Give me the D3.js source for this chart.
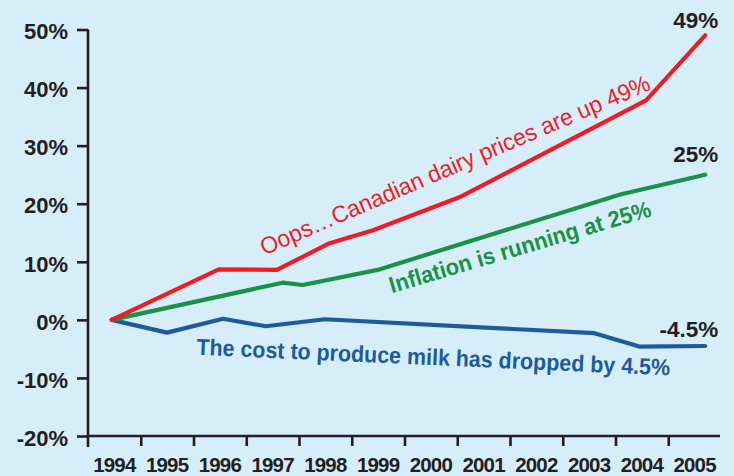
<!DOCTYPE html>
<html>
<head>
<meta charset="utf-8">
<script src="https://cdn.jsdelivr.net/npm/d3@7"></script>
<style>
  html, body { margin: 0; padding: 0; background: #d6edfa; }
  svg { display: block; font-family: "Liberation Sans", Arial, Helvetica, sans-serif; }
</style>
</head>
<body>
<svg id="chart" width="734" height="476"></svg>
<script>
// ---- data ----
const years = [1994, 1995, 1996, 1997, 1998, 1999, 2000, 2001, 2002, 2003, 2004, 2005];
const yTicks = [-20, -10, 0, 10, 20, 30, 40, 50];

// time positions (fractional years) and % change since 1994
const dairyT  = [1994.45, 1996.48, 1997.58, 1998.58, 1999.39, 2001.04, 2004.58, 2005.70];
const dairyV  = [0, 8.7, 8.6, 13.2, 15.4, 21.1, 37.8, 49];
const inflT   = [1994.45, 1997.69, 1998.07, 1999.49, 2004.09, 2005.70];
const inflV   = [0, 6.4, 6.0, 8.6, 21.6, 25];
const costT   = [1994.45, 1995.50, 1996.56, 1997.37, 1998.49, 2003.60, 2004.45, 2005.70];
const costV   = [0, -2.2, 0.2, -1.1, 0.1, -2.3, -4.6, -4.5];

const endLabels = ["49%", "25%", "-4.5%"];
const notes = [
  "Oops\u2026Canadian dairy prices are up 49%",
  "Inflation is running at 25%",
  "The cost to produce milk has dropped by 4.5%"
];

// ---- drawing ----
const svg = d3.select("#chart");
const ink = "#231f20";
const x = d3.scaleLinear().domain([1994, 2006]).range([88, 721]);
const y = d3.scaleLinear().domain([-20, 50]).range([436, 29.5]);

svg.append("rect").attr("width", 734).attr("height", 476).attr("fill", "#d6edfa");

// Y axis
const yAxis = svg.append("g").attr("transform", "translate(88,0)")
  .call(d3.axisLeft(y).tickValues(yTicks).tickSize(11).tickPadding(9).tickFormat(d => d + "%"));
yAxis.select(".domain").attr("d", `M0,${y(50)}V${y(-20) + 11}`);

// X axis
const xAxis = svg.append("g").attr("transform", `translate(0,${y(-20)})`)
  .call(d3.axisBottom(x).tickValues(years).tickSize(10).tickFormat(""));
xAxis.select(".domain").attr("d", `M${x(1994)},0H${x(2006) - 1}`);
xAxis.selectAll(".tick").filter(d => d === 1994).select("line").remove();
xAxis.append("g").selectAll("text").data(years).join("text")
  .attr("x", d => x(d + 0.5)).attr("y", 36)
  .attr("text-anchor", "middle")
  .attr("fill", ink).attr("font-size", 20.5).attr("font-weight", "bold")
  .attr("letter-spacing", "-0.8px")
  .text(d => d);

[yAxis, xAxis].forEach(g => {
  g.select(".domain").attr("stroke", ink).attr("stroke-width", 2.6);
  g.selectAll(".tick line").attr("stroke", ink).attr("stroke-width", 2.6);
});
yAxis.selectAll(".tick text")
  .attr("fill", ink).attr("font-size", 22).attr("font-weight", "bold")
  .attr("font-family", "'Liberation Sans', Arial, sans-serif")
  .attr("dy", "0.42em");

// lines
const series = [
  { t: costT,  v: costV,  color: "#1f5a9c" },
  { t: inflT,  v: inflV,  color: "#1a9146" },
  { t: dairyT, v: dairyV, color: "#ee1c25" }
];
const line = d3.line().x(d => x(d[0])).y(d => y(d[1]));
series.forEach(s => {
  svg.append("path")
    .datum(s.t.map((t, i) => [t, s.v[i]]))
    .attr("d", line)
    .attr("fill", "none")
    .attr("stroke", s.color)
    .attr("stroke-width", 4.2)
    .attr("stroke-linejoin", "round")
    .attr("stroke-linecap", "round");
});

// end value labels
const endSpecs = [
  { t: dairyT, v: dairyV, dy: -7 },
  { t: inflT,  v: inflV,  dy: -13 },
  { t: costT,  v: costV,  dy: -9 }
];
endSpecs.forEach((s, i) => {
  const n = s.t.length - 1;
  svg.append("text")
    .attr("x", x(s.t[n]) + 13).attr("y", y(s.v[n]) + s.dy)
    .attr("text-anchor", "end")
    .attr("fill", ink).attr("font-size", 22.5).attr("font-weight", "bold")
    .text(endLabels[i]);
});

// annotations
const noteSpecs = [
  { text: notes[0], at: [1997.34, 11.1], angle: -23.2, color: "#ee1c25", weight: "normal", size: 23.5, len: 422 },
  { text: notes[1], at: [1999.76, 4.6],  angle: -16.5, color: "#1a9146", weight: "bold", size: 23, len: 272 },
  { text: notes[2], at: [1996.05, -6.0], angle: 2.5, color: "#1f5a9c", weight: "bold", size: 23, len: 474 }
];
noteSpecs.forEach(s => {
  svg.append("text")
    .attr("transform", `translate(${x(s.at[0])},${y(s.at[1])}) rotate(${s.angle})`)
    .attr("fill", s.color).attr("font-size", s.size).attr("font-weight", s.weight)
    .attr("textLength", s.len).attr("lengthAdjust", "spacingAndGlyphs")
    .text(s.text);
});
</script>
</body>
</html>
